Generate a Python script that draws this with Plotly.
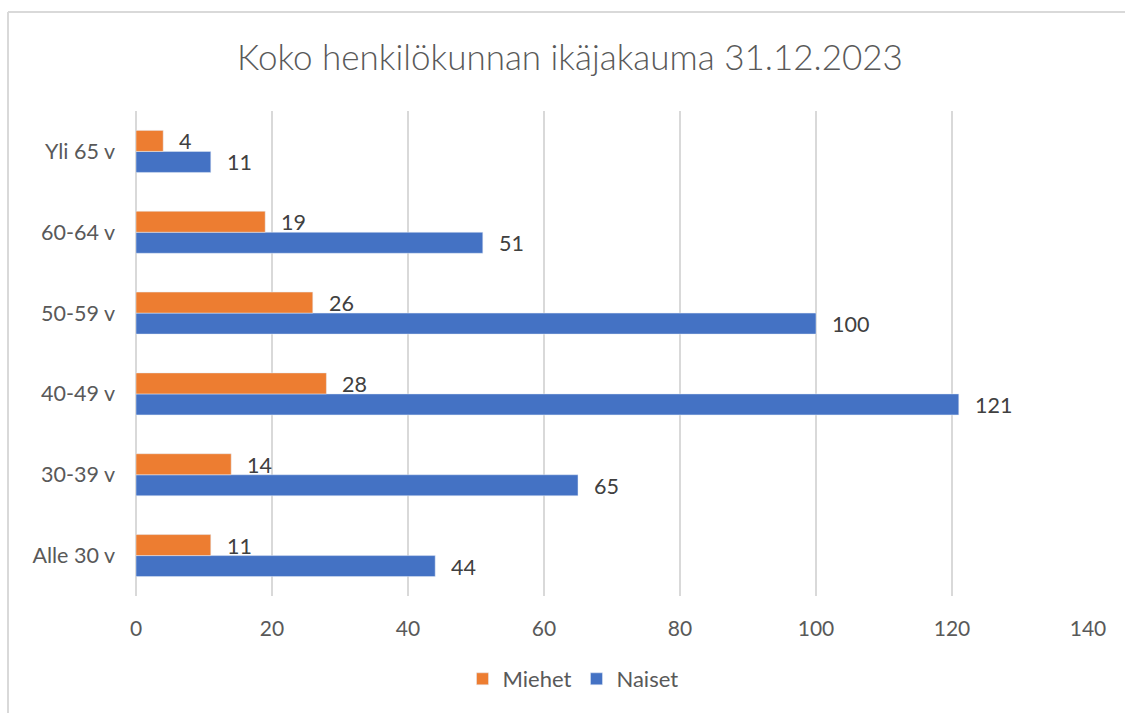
import plotly.graph_objects as go

categories = ["Alle 30 v", "30-39 v", "40-49 v", "50-59 v", "60-64 v", "Yli 65 v"]
miehet = [11, 14, 28, 26, 19, 4]
naiset = [44, 65, 121, 100, 51, 11]
x_ticks = [0, 20, 40, 60, 80, 100, 120, 140]
title_text = "Koko henkilökunnan ikäjakauma 31.12.2023"

ORANGE = "#ED7D31"
BLUE = "#4472C4"
FONT = "Lato"
GRAY = "#595959"

fig = go.Figure()
fig.add_trace(go.Bar(y=categories, x=naiset, name="Naiset", orientation="h",
                     marker=dict(color=BLUE), legendrank=2))
fig.add_trace(go.Bar(y=categories, x=miehet, name="Miehet", orientation="h",
                     marker=dict(color=ORANGE), legendrank=1))

annotations = []
for cat, v in zip(categories, miehet):
    annotations.append(dict(x=v, y=cat, xref="x", yref="y", text=str(v), showarrow=False,
                            xanchor="left", yanchor="middle", xshift=14, yshift=10,
                            font=dict(family=FONT, size=21.5, color="#404040")))
for cat, v in zip(categories, naiset):
    annotations.append(dict(x=v, y=cat, xref="x", yref="y", text=str(v), showarrow=False,
                            xanchor="left", yanchor="middle", xshift=14, yshift=-11,
                            font=dict(family=FONT, size=21.5, color="#404040")))

fig.update_layout(
    width=1125, height=713,
    margin=dict(l=136, r=37, t=111, b=117),
    paper_bgcolor="white", plot_bgcolor="white",
    barmode="group", bargap=0.48, bargroupgap=0,
    font=dict(family=FONT, color=GRAY, size=21),
    title=dict(text=title_text, x=570 / 1125, xref="container", xanchor="center",
               y=1 - 58 / 713, yref="container", yanchor="middle",
               font=dict(family=FONT, size=35, color=GRAY, weight=300)),
    xaxis=dict(range=[0, 140], tickvals=x_ticks, showgrid=True, gridcolor="#d9d9d9",
               gridwidth=2, zeroline=True, zerolinecolor="#d9d9d9", zerolinewidth=2,
               showline=False, ticks="", ticklabelstandoff=18,
               tickfont=dict(family=FONT, size=21, color=GRAY), fixedrange=True),
    yaxis=dict(categoryorder="array", categoryarray=categories, range=[-0.5, 5.5],
               showgrid=False, zeroline=False, showline=False, ticks="",
               ticklabelstandoff=20,
               tickfont=dict(family=FONT, size=21.5, color=GRAY)),
    legend=dict(orientation="h", x=(573 - 136) / 952, y=(596 - 679) / 485,
                xanchor="center", yanchor="middle", traceorder="normal",
                font=dict(family=FONT, size=22, color=GRAY), itemwidth=30),
    annotations=annotations,
    showlegend=True,
    shapes=[
        dict(type="line", xref="paper", yref="paper",
             x0=(8 - 136) / 952, x1=(1130 - 136) / 952,
             y0=(596 - 12) / 485, y1=(596 - 12) / 485,
             line=dict(color="#d9d9d9", width=2)),
        dict(type="line", xref="paper", yref="paper",
             x0=(8 - 136) / 952, x1=(8 - 136) / 952,
             y0=(596 - 12) / 485, y1=(596 - 720) / 485,
             line=dict(color="#d9d9d9", width=2)),
    ],
)

fig.write_html("out.html", config={"displayModeBar": False},
               post_script="document.body.style.margin='0';document.body.style.padding='0';")
